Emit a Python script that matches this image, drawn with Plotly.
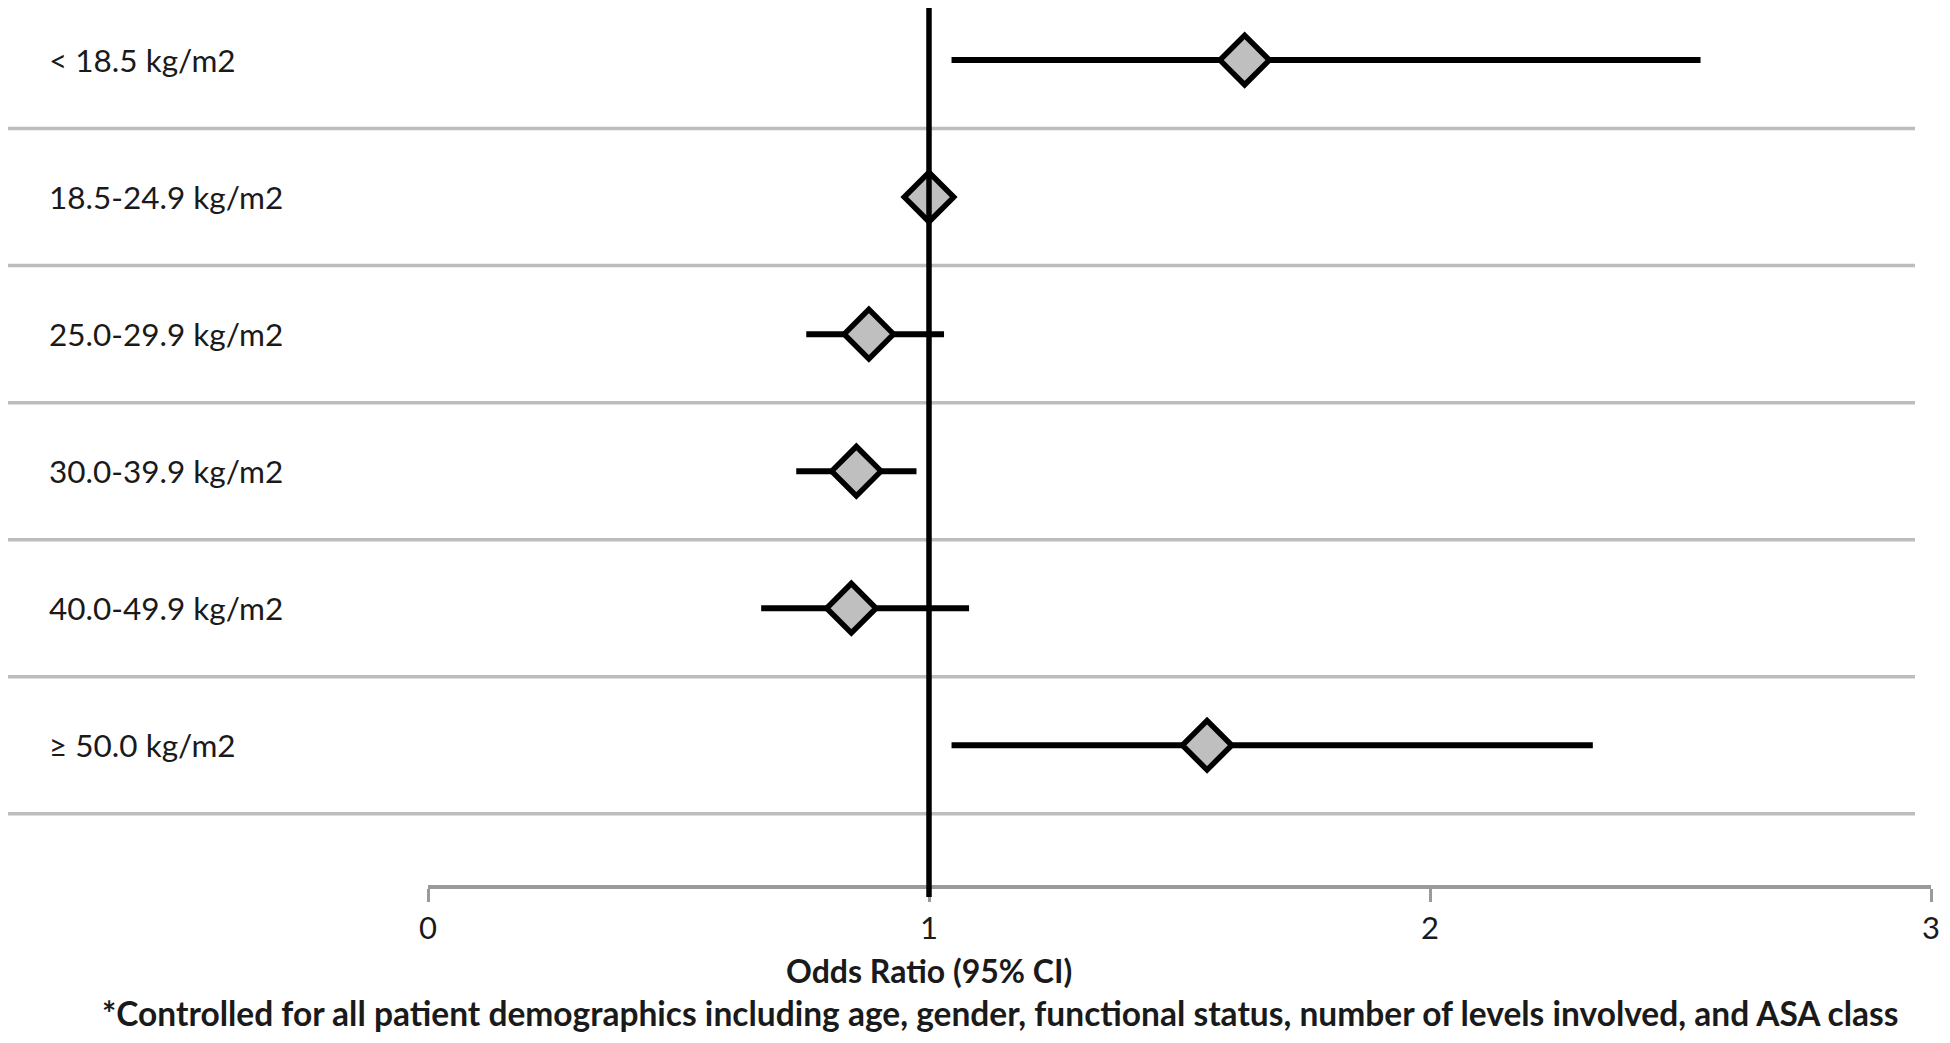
import plotly.graph_objects as go

categories = ["< 18.5 kg/m2", "18.5-24.9 kg/m2", "25.0-29.9 kg/m2",
              "30.0-39.9 kg/m2", "40.0-49.9 kg/m2", "\u2265 50.0 kg/m2"]
odds_ratio = [1.63, 1.00, 0.88, 0.855, 0.845, 1.555]
ci_low = [1.045, 1.00, 0.755, 0.735, 0.665, 1.045]
ci_high = [2.54, 1.00, 1.03, 0.975, 1.08, 2.325]
x_ticks = [0, 1, 2, 3]

# page has an 8px body margin, so the figure is drawn 8px in from the window
W, H = 1942, 1035
ML, MR, MT, MB = 420, 19, 0, 158
PW = W - ML - MR
PH = H - MT - MB

rows = list(range(1, len(categories) + 1))

fig = go.Figure()
fig.add_trace(go.Scatter(
    x=odds_ratio, y=rows, mode="markers",
    marker=dict(symbol="diamond", size=38, color="#bfbfbf",
                line=dict(color="black", width=5.5)),
    error_x=dict(type="data", symmetric=False,
                 array=[h - o for h, o in zip(ci_high, odds_ratio)],
                 arrayminus=[o - l for l, o in zip(ci_low, odds_ratio)],
                 width=0, thickness=6, color="black"),
    showlegend=False, cliponaxis=False,
))

shapes = []
for k in range(len(categories)):
    yv = rows[k] + 0.5
    shapes.append(dict(type="line", xref="paper", yref="y",
                       x0=-ML / PW, x1=(1907 - ML) / PW, y0=yv, y1=yv,
                       line=dict(color="#bdbdbd", width=3.5), layer="below"))
shapes.append(dict(type="line", xref="x", yref="paper", x0=1, x1=1,
                   y0=-12 / PH, y1=1, line=dict(color="black", width=5.5)))
fig.update_layout(shapes=shapes)

annotations = []
for c, r in zip(categories, rows):
    annotations.append(dict(text=c, x=-(ML - 39) / PW, xref="paper", y=r, yref="y",
                            xanchor="left", yanchor="middle", showarrow=False,
                            font=dict(size=31.5, color="#1a1a1a")))
annotations.append(dict(text="<b>Odds Ratio (95% CI)</b>", x=1, xref="x",
                        y=(PH - 962) / PH, yref="paper", showarrow=False,
                        xanchor="center", yanchor="middle",
                        font=dict(size=32, color="#1a1a1a")))
annotations.append(dict(text="<b>*Controlled for all patient demographics including age, gender, functional status, number of levels involved, and ASA class</b>",
                        x=(992 - ML) / PW, xref="paper",
                        y=(PH - 1005) / PH, yref="paper", showarrow=False,
                        xanchor="center", yanchor="middle",
                        font=dict(size=33.5, color="#1a1a1a")))
fig.update_layout(annotations=annotations)

fig.update_layout(
    width=W, height=H,
    margin=dict(l=ML, r=MR, t=MT, b=MB),
    paper_bgcolor="white", plot_bgcolor="white",
    font=dict(family="Lato, 'Open Sans', sans-serif", color="#1a1a1a"),
    xaxis=dict(range=[0, 3], tickvals=x_ticks, ticktext=[str(t) for t in x_ticks],
               showgrid=False, zeroline=False, showline=True,
               linecolor="#9a9a9a", linewidth=3.5,
               ticks="outside", ticklen=13, tickwidth=3, tickcolor="#9a9a9a",
               tickfont=dict(size=31, color="#1a1a1a")),
    yaxis=dict(range=[7.02, 0.62], showgrid=False, zeroline=False,
               showticklabels=False, showline=False),
)

fig.write_html("out.html")
